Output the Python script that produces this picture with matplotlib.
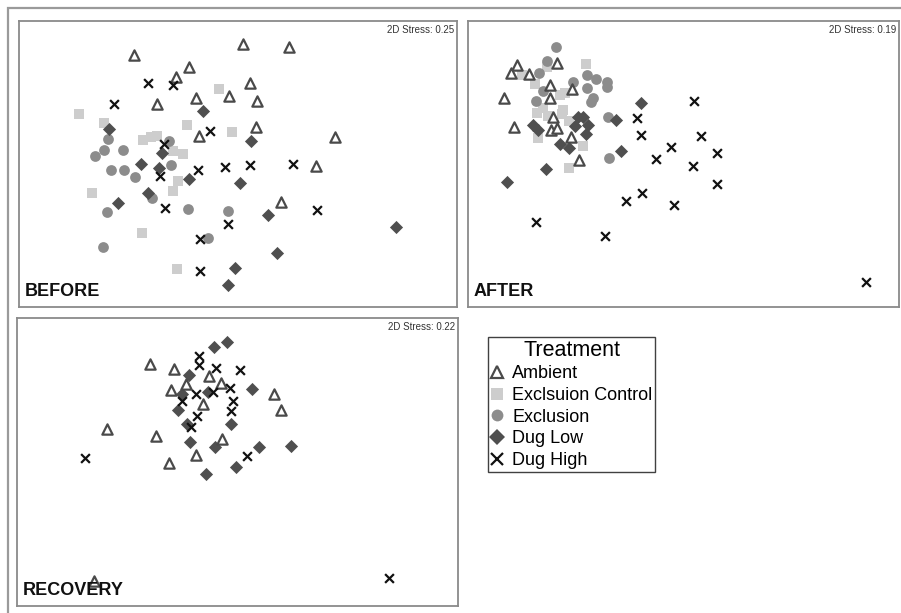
import matplotlib.pyplot as plt
from matplotlib.lines import Line2D
from matplotlib.patches import Rectangle

plt.rcParams['font.family'] = ['Liberation Sans', 'DejaVu Sans']

# NMDS ordination coordinates (plot units, y grows downward)
# BEFORE
before_amb_x = [134, 243, 289, 189, 176, 250, 157, 196, 229, 257, 256, 199, 335, 316, 281]
before_amb_y = [55, 44, 47, 67, 77, 83, 104, 98, 96, 101, 127, 136, 137, 166, 202]
before_ctl_x = [79, 104, 219, 187, 232, 143, 151, 157, 173, 183, 178, 173, 92, 142, 177]
before_ctl_y = [114, 123, 89, 125, 132, 140, 137, 136, 151, 154, 181, 191, 193, 233, 269]
before_exc_x = [108, 169, 104, 123, 95, 111, 124, 135, 171, 152, 107, 188, 228, 208, 103]
before_exc_y = [139, 141, 150, 150, 156, 170, 170, 177, 165, 198, 212, 209, 211, 238, 247]
before_low_x = [203, 109, 251, 162, 141, 159, 189, 240, 148, 118, 268, 277, 235, 228, 396]
before_low_y = [111, 129, 141, 153, 164, 168, 179, 183, 193, 203, 215, 253, 268, 285, 227]
before_high_x = [148, 173, 114, 210, 164, 160, 198, 225, 250, 293, 317, 165, 228, 200, 200]
before_high_y = [83, 85, 104, 131, 144, 176, 170, 167, 165, 164, 210, 208, 224, 239, 271]

# AFTER
after_amb_x = [517, 511, 529, 557, 550, 572, 504, 550, 553, 514, 551, 557, 571, 579]
after_amb_y = [65, 73, 74, 63, 85, 89, 98, 98, 117, 127, 130, 128, 137, 160]
after_ctl_x = [586, 522, 535, 547, 560, 565, 543, 537, 563, 562, 569, 538, 583, 569, 548]
after_ctl_y = [64, 75, 84, 67, 95, 93, 108, 113, 110, 114, 121, 138, 146, 168, 116]
after_exc_x = [556, 547, 539, 543, 536, 573, 587, 596, 607, 607, 587, 593, 591, 608, 609]
after_exc_y = [47, 61, 73, 91, 101, 82, 75, 79, 82, 87, 88, 98, 102, 117, 158]
after_low_x = [641, 578, 583, 575, 588, 586, 616, 533, 538, 560, 569, 621, 546, 507]
after_low_y = [103, 117, 117, 126, 125, 134, 120, 125, 130, 144, 148, 151, 169, 182]
after_high_x = [694, 637, 641, 701, 671, 717, 656, 693, 717, 642, 626, 674, 536, 605, 866]
after_high_y = [101, 118, 135, 136, 147, 153, 159, 166, 184, 193, 201, 205, 222, 236, 282]

# RECOVERY
rec_amb_x = [150, 174, 171, 186, 209, 221, 203, 274, 281, 156, 222, 196, 169, 107, 94]
rec_amb_y = [364, 369, 390, 384, 376, 383, 404, 394, 410, 436, 439, 455, 463, 429, 581]
rec_low_x = [214, 227, 189, 182, 208, 178, 187, 231, 252, 190, 215, 259, 291, 236, 206]
rec_low_y = [347, 342, 375, 394, 392, 410, 424, 424, 389, 442, 447, 447, 446, 467, 474]
rec_high_x = [199, 199, 216, 240, 230, 196, 213, 233, 231, 182, 197, 191, 247, 85, 389]
rec_high_y = [356, 365, 368, 370, 388, 394, 392, 401, 411, 401, 416, 427, 456, 458, 578]

treatments = ['Ambient', 'Exclsuion Control', 'Exclusion', 'Dug Low', 'Dug High']
stress = ['2D Stress: 0.25', '2D Stress: 0.19', '2D Stress: 0.22']
panel_names = ['BEFORE', 'AFTER', 'RECOVERY']

W, H = 901, 613
fig = plt.figure(figsize=(W / 100, H / 100), dpi=100)


def add_panel(x0, x1, y0, y1):
    ax = fig.add_axes([x0 / W, 1 - y1 / H, (x1 - x0) / W, (y1 - y0) / H])
    ax.set_xlim(x0, x1)
    ax.set_ylim(y1, y0)
    ax.set_xticks([])
    ax.set_yticks([])
    for s in ax.spines.values():
        s.set_color('#8a8a8a')
        s.set_linewidth(1.3)
    return ax


def draw(ax, key, xs, ys):
    if key == 'amb':
        ax.scatter(xs, ys, marker='^', s=55, facecolor='white', edgecolor='#4a4a4a', linewidth=1.6, zorder=3)
    elif key == 'ctl':
        ax.scatter(xs, ys, marker='s', s=60, color='#cdcdcd', linewidth=0, zorder=2)
    elif key == 'exc':
        ax.scatter(xs, ys, marker='o', s=60, color='#8c8c8c', linewidth=0, zorder=2)
    elif key == 'low':
        ax.scatter(xs, ys, marker='D', s=45, color='#4f4f4f', linewidth=0, zorder=3)
    else:
        ax.scatter(xs, ys, marker='x', s=40, color='#111111', linewidth=1.6, zorder=4)


ax1 = add_panel(19, 457, 21, 307)
draw(ax1, 'ctl', before_ctl_x, before_ctl_y)
draw(ax1, 'exc', before_exc_x, before_exc_y)
draw(ax1, 'low', before_low_x, before_low_y)
draw(ax1, 'amb', before_amb_x, before_amb_y)
draw(ax1, 'high', before_high_x, before_high_y)

ax2 = add_panel(468, 899, 21, 307)
draw(ax2, 'ctl', after_ctl_x, after_ctl_y)
draw(ax2, 'exc', after_exc_x, after_exc_y)
draw(ax2, 'low', after_low_x, after_low_y)
draw(ax2, 'amb', after_amb_x, after_amb_y)
draw(ax2, 'high', after_high_x, after_high_y)

ax3 = add_panel(17, 458, 318, 606)
draw(ax3, 'low', rec_low_x, rec_low_y)
draw(ax3, 'amb', rec_amb_x, rec_amb_y)
draw(ax3, 'high', rec_high_x, rec_high_y)

for ax, st, name in zip([ax1, ax2, ax3], stress, panel_names):
    ax.text(0.993, 0.985, st, transform=ax.transAxes, ha='right', va='top',
            fontsize=7, color='#333333')
    ax.text(0.012, 0.025, name, transform=ax.transAxes, ha='left', va='bottom',
            fontsize=13, fontweight='bold', color='#111111')

# outer grey frame
fig.patches.append(Rectangle((8 / W, -0.1), 1.2, 1 - 8 / H + 0.1, transform=fig.transFigure,
                             fill=False, edgecolor='#9a9a9a', linewidth=1.6))

handles = [
    Line2D([], [], ls='', marker='^', ms=8.5, mfc='white', mec='#4a4a4a', mew=1.6),
    Line2D([], [], ls='', marker='s', ms=8.5, mfc='#cdcdcd', mec='#cdcdcd', mew=0),
    Line2D([], [], ls='', marker='o', ms=8.5, mfc='#8c8c8c', mec='#8c8c8c', mew=0),
    Line2D([], [], ls='', marker='D', ms=8, mfc='#4f4f4f', mec='#4f4f4f', mew=0),
    Line2D([], [], ls='', marker='x', ms=8, mec='#111111', mew=1.6),
]
leg = fig.legend(handles, treatments, title='Treatment', loc='upper left',
                 bbox_to_anchor=(488 / W, 1 - 337 / H), fontsize=13, title_fontsize=15.5,
                 frameon=True, fancybox=False, borderpad=0.15, handlelength=0.7,
                 handletextpad=0.5, labelspacing=0.26, borderaxespad=0)
leg.get_frame().set_edgecolor('#111111')
leg.get_frame().set_linewidth(1.0)

fig.savefig('out.png', dpi=100)
